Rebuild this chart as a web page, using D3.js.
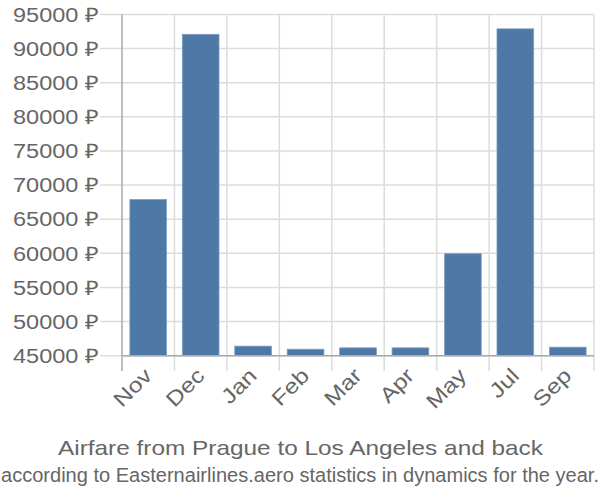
<!DOCTYPE html>
<html><head><meta charset="utf-8">
<script src="https://cdn.jsdelivr.net/npm/d3@7"></script>
<style>body{margin:0;background:#fff}svg{display:block;font-family:"Liberation Sans",Arial,sans-serif}</style>
</head><body><svg id="c" width="600" height="500"></svg>
<script>
const months = ["Nov","Dec","Jan","Feb","Mar","Apr","May","Jul","Sep"];
const prices = [67900, 92100, 46400, 45950, 46150, 46150, 59950, 92900, 46250];
const yTicks = [45000,50000,55000,60000,65000,70000,75000,80000,85000,90000,95000];
const title = "Airfare from Prague to Los Angeles and back";
const subtitle = "according to Easternairlines.aero statistics in dynamics for the year.";

const svg = d3.select("#c");
const L = 122, R = 594, T = 14.5, B = 355.7;
const x = d3.scaleBand().domain(months).range([L, R]).paddingInner(0.3).paddingOuter(0.15);
const y = d3.scaleLinear().domain([45000, 95000]).range([B, T]);
const step = x.step();

// horizontal grid
svg.append("g").selectAll("line").data(yTicks).join("line")
  .attr("x1", 100).attr("x2", R).attr("y1", d => y(d)).attr("y2", d => y(d))
  .attr("stroke", "#dcdcdc").attr("stroke-width", 1.5);
// vertical grid
svg.append("g").selectAll("line").data(d3.range(months.length + 1)).join("line")
  .attr("x1", i => L + i * step).attr("x2", i => L + i * step)
  .attr("y1", T).attr("y2", 371)
  .attr("stroke", i => i === 0 ? "#aaaaaa" : "#dcdcdc").attr("stroke-width", 1.5);

// bars
svg.append("g").selectAll("rect").data(months).join("rect")
  .attr("x", d => x(d)).attr("width", x.bandwidth())
  .attr("y", (d, i) => y(prices[i])).attr("height", (d, i) => y(45000) - y(prices[i]))
  .attr("fill", "#4e79a7").attr("stroke", "#7f9ec2").attr("stroke-width", 0.8);

// x axis line
svg.append("line").attr("x1", L).attr("x2", R).attr("y1", B).attr("y2", B)
  .attr("stroke", "#aaaaaa").attr("stroke-width", 1.5);

// y labels
svg.append("g").selectAll("text").data(yTicks).join("text")
  .attr("x", 99).attr("y", d => y(d)).attr("dy", "0.36em")
  .attr("text-anchor", "end").attr("fill", "#666").attr("font-size", 20)
  .attr("textLength", 86).attr("lengthAdjust", "spacingAndGlyphs")
  .text(d => d + " ₽");

// x labels
svg.append("g").selectAll("text").data(months).join("text")
  .attr("transform", d => `translate(${x(d) + x.bandwidth() / 2 + 5},${377}) rotate(-45) scale(1.18,1)`)
  .attr("text-anchor", "end").attr("fill", "#666").attr("font-size", 21)
  .text(d => d);

svg.append("text").attr("x", 300.5).attr("y", 455).attr("text-anchor", "middle")
  .attr("fill", "#666").attr("font-size", 21)
  .attr("textLength", 485).attr("lengthAdjust", "spacingAndGlyphs").text(title);
svg.append("text").attr("x", 300).attr("y", 482).attr("text-anchor", "middle")
  .attr("fill", "#666").attr("font-size", 20)
  .attr("textLength", 598).attr("lengthAdjust", "spacingAndGlyphs").text(subtitle);
</script></body></html>
